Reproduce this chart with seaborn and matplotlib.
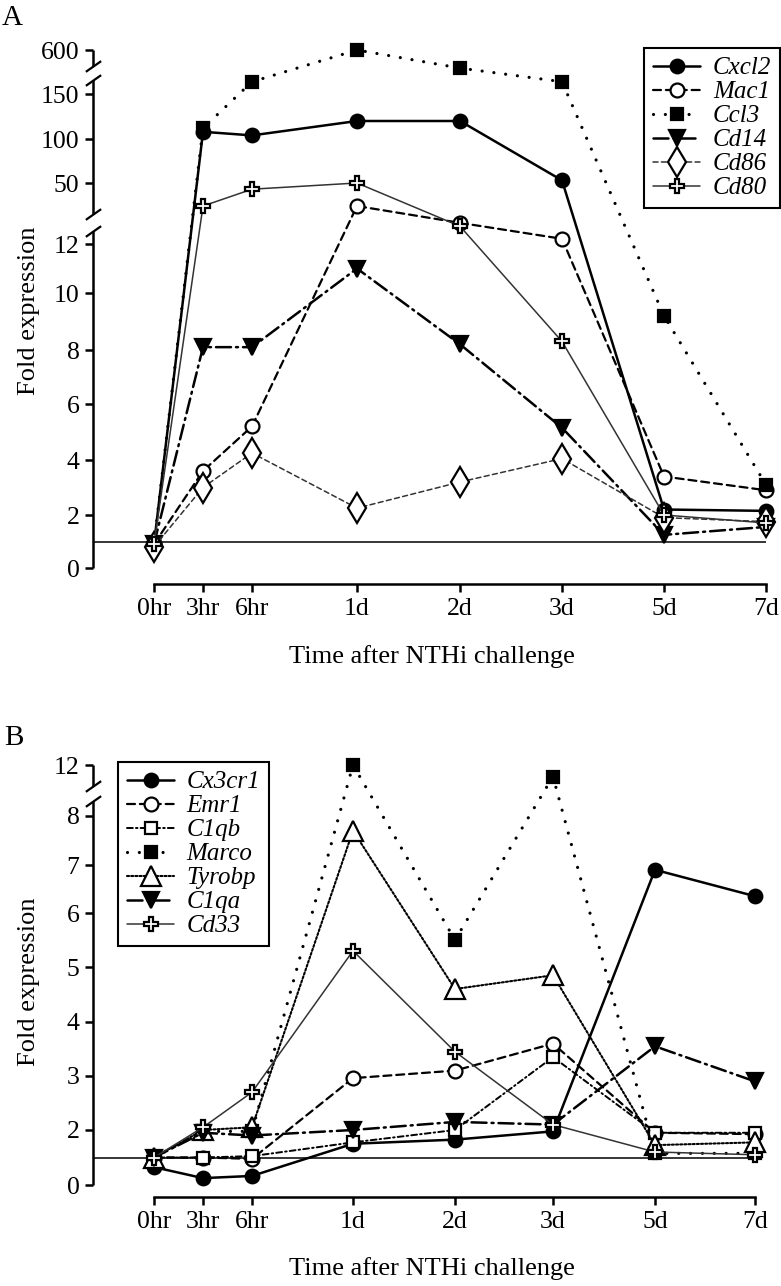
import numpy as np
import pandas as pd
import seaborn as sns
import matplotlib
matplotlib.use("Agg")
import matplotlib.pyplot as plt

# time points (hours after challenge) and their labels
time_hours = [0, 3, 6, 24, 48, 72, 120, 168]
time_labels = ["0hr", "3hr", "6hr", "1d", "2d", "3d", "5d", "7d"]

# panel A: fold expression
cxcl2 = [0.9, 108, 104, 120, 120, 53, 2.2, 2.15]
mac1 = [0.9, 3.6, 5.2, 24, 13.7, 12.2, 3.4, 2.9]
ccl3 = [0.9, 112, 164, 600, 450, 164, 9.2, 3.1]
cd14 = [0.9, 8.1, 8.1, 11.0, 8.2, 5.15, 1.25, 1.55]
cd86 = [0.8, 3.0, 4.25, 2.25, 3.2, 4.05, 1.9, 1.75]
cd80 = [0.9, 24, 43, 50, 13.2, 8.3, 2.0, 1.7]

# panel B: fold expression
cx3cr1 = [0.65, 0.25, 0.33, 1.5, 1.65, 1.95, 6.9, 6.35]
emr1 = [1.0, 1.0, 0.95, 2.96, 3.1, 3.6, 1.9, 1.85]
c1qb = [1.0, 1.0, 1.05, 1.55, 2.0, 3.35, 1.9, 1.9]
marco = [1.0, 1.95, 1.95, 12.0, 5.5, 11.45, 1.15, 1.15]
tyrobp = [1.0, 2.0, 2.05, 7.7, 4.6, 4.85, 1.45, 1.55]
c1qa = [1.0, 1.9, 1.8, 2.0, 2.15, 2.1, 3.55, 2.9]
cd33 = [1.0, 2.05, 2.7, 5.3, 3.45, 2.1, 1.2, 1.1]

yticks_a = [0, 2, 4, 6, 8, 10, 12, 50, 100, 150, 600]
yticks_b = [0, 2, 3, 4, 5, 6, 7, 8, 12]

df_a = pd.DataFrame({"hours": time_hours, "Cxcl2": cxcl2, "Mac1": mac1, "Ccl3": ccl3,
                     "Cd14": cd14, "Cd86": cd86, "Cd80": cd80})
df_b = pd.DataFrame({"hours": time_hours, "Cx3cr1": cx3cr1, "Emr1": emr1, "C1qb": c1qb,
                     "Marco": marco, "Tyrobp": tyrobp, "C1qa": c1qa, "Cd33": cd33})

W, H = 781, 1286

sns.set_style("ticks", {"axes.edgecolor": "black", "xtick.color": "black",
                        "ytick.color": "black", "text.color": "black",
                        "axes.labelcolor": "black"})
plt.rcParams["font.family"] = ["Liberation Serif", "DejaVu Serif"]


def piecewise(xk, yk):
    # piecewise linear map with linear extension past the ends
    xk = np.asarray(xk, float)
    yk = np.asarray(yk, float)

    def f(v):
        v = np.asarray(v, float)
        out = np.interp(v, xk, yk)
        lo = yk[0] + (v - xk[0]) * (yk[1] - yk[0]) / (xk[1] - xk[0])
        hi = yk[-1] + (v - xk[-1]) * (yk[-1] - yk[-2]) / (xk[-1] - xk[-2])
        out = np.where(v < xk[0], lo, out)
        out = np.where(v > xk[-1], hi, out)
        return out
    return f


def set_scales(ax, x_px, y_vals, y_px, left, right, bottom, top):
    # axes use pixel-like scales so the broken, uneven axes of the figure come out right
    fx, ix = piecewise(time_hours, x_px), piecewise(x_px, time_hours)
    neg = [-p for p in y_px]
    fy, iy = piecewise(y_vals, neg), piecewise(neg, y_vals)
    ax.set_xscale("function", functions=(fx, ix))
    ax.set_yscale("function", functions=(fy, iy))
    ax.set_xlim(float(ix(left)), float(ix(right)))
    ax.set_ylim(float(iy(-bottom)), float(iy(-top)))


def draw_left_spine(ax, segments, breaks):
    ax.spines["left"].set_visible(False)
    tr = ax.get_yaxis_transform()
    for lo, hi in segments:
        ax.plot([0, 0], [lo, hi], transform=tr, color="k", lw=1.8,
                clip_on=False, solid_capstyle="butt")
    for v in breaks:
        ax.plot([0], [v], transform=tr, marker=[(-1, -0.7), (1, 0.7)], ms=11,
                markeredgewidth=1.6, color="k", clip_on=False)


def style_axes(ax, yticks, x_out):
    ax.spines["top"].set_visible(False)
    ax.spines["right"].set_visible(False)
    ax.spines["bottom"].set_position(("outward", x_out))
    ax.spines["bottom"].set_bounds(time_hours[0], time_hours[-1])
    ax.spines["bottom"].set_linewidth(1.8)
    ax.set_xticks(time_hours, time_labels)
    ax.set_yticks(yticks, [str(t) for t in yticks])
    ax.minorticks_off()
    ax.tick_params(axis="both", direction="out", length=5.8, width=1.8,
                   labelsize=18.5, colors="k")
    ax.tick_params(axis="x", pad=4)
    ax.tick_params(axis="y", pad=4)
    ax.hlines(1, ax.get_xlim()[0], time_hours[-1], color="k", lw=1.1, zorder=1)


def draw_series(ax, df, specs):
    for name, ls, lw, col, mk, ms, face in specs:
        sns.lineplot(data=df, x="hours", y=name, ax=ax, label=name, color=col,
                     linestyle=ls, linewidth=lw, marker=mk, markersize=ms,
                     markerfacecolor=face, markeredgecolor="k",
                     markeredgewidth=1.6, dash_capstyle="round",
                     errorbar=None, clip_on=False, zorder=3)


def add_legend(ax, loc, anchor):
    leg = ax.legend(loc=loc, bbox_to_anchor=anchor, bbox_transform=fig.transFigure,
                    prop={"style": "italic", "size": 18}, frameon=True, fancybox=False,
                    edgecolor="k", framealpha=1, handlelength=1.9, handletextpad=0.5,
                    labelspacing=0.06, borderpad=0.35, borderaxespad=0)
    leg.get_frame().set_linewidth(1.5)
    return leg


fig = plt.figure(figsize=(W / 100, H / 100), dpi=100)

# ---------------- panel A ----------------
ax_a = fig.add_axes([93 / W, 1 - 568 / H, (775 - 93) / W, (568 - 45) / H])
set_scales(ax_a, [154, 203, 252, 357, 460, 562, 664, 766],
           [0, 2, 4, 6, 8, 10, 12, 12.5, 15, 50, 100, 150, 166, 500, 600, 700],
           [568, 515, 460, 404, 350, 293, 244, 231, 214, 183, 139, 94, 80, 66, 50, 34],
           93, 775, 568, 45)

specs_a = [
    ("Cxcl2", "-", 1.8, "k", "o", 9.8, "k"),
    ("Mac1", (0, (3.6, 2.2)), 1.6, "k", "o", 10, "w"),
    ("Ccl3", (0, (0.01, 3.7)), 2.3, "k", "s", 9, "k"),
    ("Cd14", (0, (6, 2, 0.8, 2)), 1.8, "k", "v", 11, "k"),
    ("Cd86", (0, (3.3, 2.2)), 1.1, "#333333", "d", 15, "w"),
    ("Cd80", "-", 1.1, "#333333", "P", 9.5, "w"),
]
draw_series(ax_a, df_a, specs_a)
style_axes(ax_a, yticks_a, 11.5)
draw_left_spine(ax_a, [(0, 12.5), (15, 166), (500, 600)], [12.5, 15, 166, 500])

ax_a.set_xlabel("Time after NTHi challenge", fontsize=19)
ax_a.xaxis.set_label_coords((432 - 93) / 682, (568 - 645) / 523)
ax_a.set_ylabel("Fold expression", fontsize=19)
ax_a.yaxis.set_label_coords((40 - 93) / 682, (568 - 311) / 523)
add_legend(ax_a, "upper right", (780 / W, 1 - 48 / H))

# ---------------- panel B ----------------
ax_b = fig.add_axes([93 / W, 1 - 1185 / H, (775 - 93) / W, (1185 - 760) / H])
set_scales(ax_b, [154, 203, 252, 353, 455, 553, 655, 755],
           [0, 2, 3, 4, 5, 6, 7, 8, 8.3, 11.0, 12, 13],
           [1185, 1130, 1076, 1022, 967, 913, 865, 816, 801, 786, 765, 745],
           93, 775, 1185, 760)

specs_b = [
    ("Cx3cr1", "-", 1.8, "k", "o", 9.8, "k"),
    ("Emr1", (0, (3.6, 2.2)), 1.6, "k", "o", 10, "w"),
    ("C1qb", (0, (3, 1.6, 0.8, 1.6)), 1.4, "k", "s", 9, "w"),
    ("Marco", (0, (0.01, 3.7)), 2.3, "k", "s", 9, "k"),
    ("Tyrobp", (0, (1, 1)), 1.5, "k", "^", 14, "w"),
    ("C1qa", (0, (6, 2, 0.8, 2)), 1.8, "k", "v", 11, "k"),
    ("Cd33", "-", 1.1, "#333333", "P", 9.5, "w"),
]
draw_series(ax_b, df_b, specs_b)
style_axes(ax_b, yticks_b, 8.6)
draw_left_spine(ax_b, [(0, 8.3), (11.0, 12)], [8.3, 11.0])

ax_b.set_xlabel("Time after NTHi challenge", fontsize=19)
ax_b.xaxis.set_label_coords((432 - 93) / 682, (1185 - 1257) / 425)
ax_b.set_ylabel("Fold expression", fontsize=19)
ax_b.yaxis.set_label_coords((40 - 93) / 682, (1185 - 982) / 425)
add_legend(ax_b, "upper left", (118 / W, 1 - 762 / H))

fig.text(12 / W, 1 - 18 / H, "A", ha="center", va="center", fontsize=21)
fig.text(14 / W, 1 - 738 / H, "B", ha="center", va="center", fontsize=21)

fig.savefig("out.png", dpi=100)
